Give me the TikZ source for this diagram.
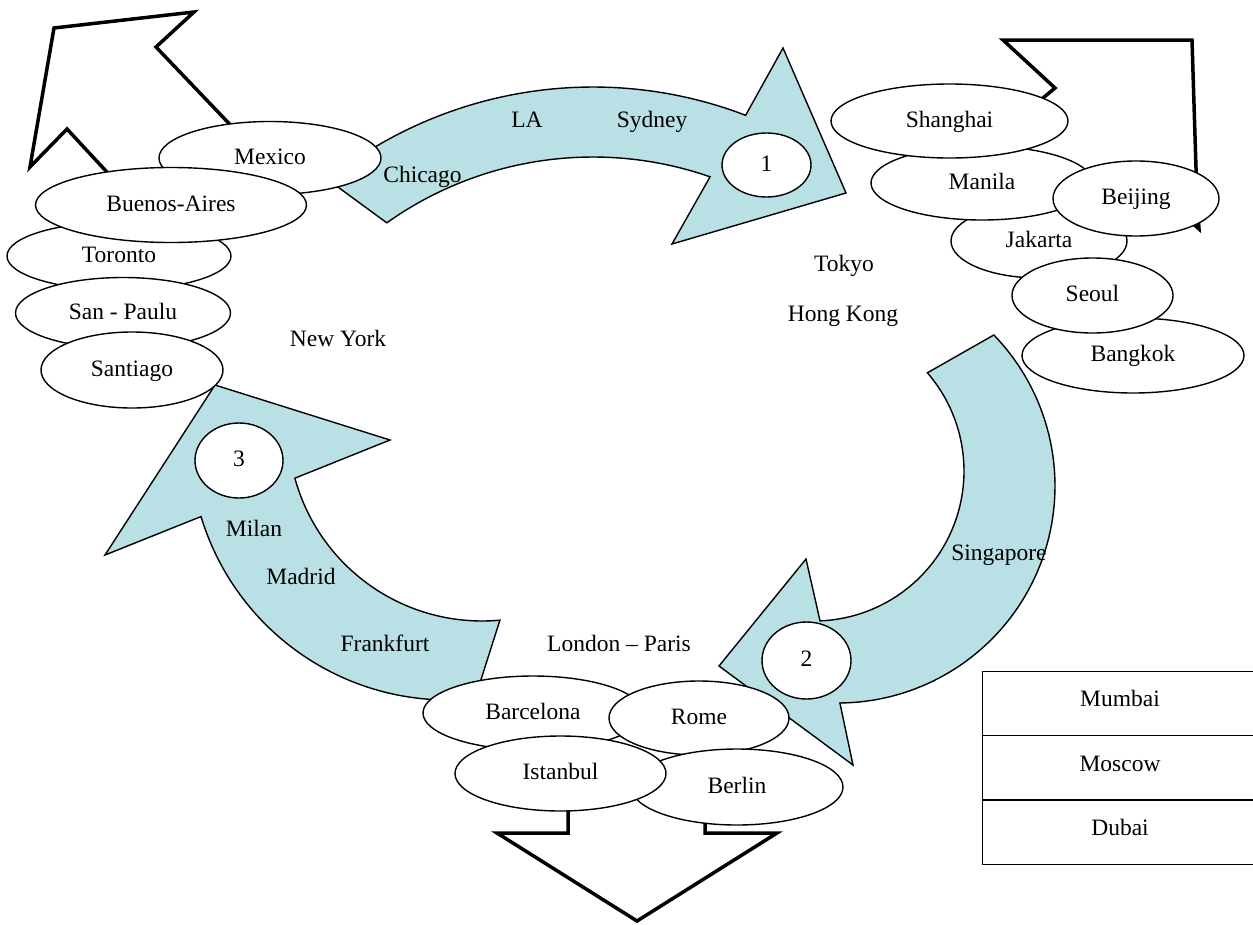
\documentclass[tikz,border=0pt]{standalone}
\usepackage{fontspec}
\setmainfont{Liberation Serif}
\usetikzlibrary{shapes.geometric}
\definecolor{arrowblue}{RGB}{185,224,228}
\newcommand\cityfont{\fontsize{23.5}{28}\selectfont}
\tikzset{
  city/.style={ellipse, draw, fill=white, line width=1.4pt, inner sep=0pt, font=\cityfont, text height=16.5pt, text depth=4.5pt},
  lbl/.style={inner sep=0pt, font=\cityfont, text height=16.5pt, text depth=4.5pt},
  bluearrow/.style={draw, fill=arrowblue, line width=1.4pt, line join=miter},
  hollow/.style={draw, line width=3.5pt, line join=miter},
  cell/.style={rectangle, draw, line width=1.4pt, minimum width=275pt, minimum height=64.5pt, inner sep=0pt, font=\cityfont, text height=16.5pt, text depth=10pt},
}
\begin{document}
\begin{tikzpicture}[x=1pt,y=-1pt]
\useasboundingbox (0,0) rectangle (1253,924);
\fill[white] (0,0) rectangle (1253,924);
\clip (0,0) rectangle (1253,924);

% hollow arrows
\draw[hollow] (118,184) -- (67,129) -- (30,167) -- (54,28) -- (194,12) -- (156,47) -- (240,135);
\draw[hollow] (1031,108) -- (1055,88) -- (1003,40) -- (1192,40) -- (1197,200) -- (1199,229) -- (1180,212);
\draw[hollow] (568,800) -- (568,833) -- (497,833) -- (637,921) -- (777,833) -- (705,833) -- (705,815);

% curved blue arrows
\draw[bluearrow] plot[domain=-128.5:-69,samples=60,variable=\t] ({593+426*cos(\t)},{513+426*sin(\t)})
  -- (783,48) -- (846,193) -- (672,244)
  -- plot[domain=-70.8:-125.4,samples=60,variable=\t] ({593+356*cos(\t)},{513+356*sin(\t)}) -- cycle;
\draw[bluearrow] plot[domain=-44.1:89.5,samples=80,variable=\t] ({838+217*cos(\t)},{486+217*sin(\t)})
  -- (853,765) -- (719,666) -- (806,559)
  -- plot[domain=87.7:-40.9,samples=80,variable=\t] ({814+150*cos(\t)},{471+150*sin(\t)}) -- cycle;
\draw[bluearrow] plot[domain=84:163.2,samples=60,variable=\t] ({448+258*cos(\t)},{442+258*sin(\t)})
  -- (105,555) -- (215,385) -- (390,440)
  -- plot[domain=164.7:84.7,samples=60,variable=\t] ({482+194*cos(\t)},{427+194*sin(\t)}) -- cycle;

% left group
\node[city, minimum width=222pt, minimum height=73pt] (mexico) at (270,158) {Mexico};
\node[city, minimum width=224pt, minimum height=68pt] (toronto) at (119,256) {Toronto};
\node[city, minimum width=271pt, minimum height=75pt] (buenos) at (171,205) {Buenos-Aires};
\node[city, minimum width=215pt, minimum height=71pt] (sanpaulu) at (123,313) {San - Paulu};
\node[city, minimum width=182pt, minimum height=76pt] (santiago) at (132,370) {Santiago};

% right group
\node[city, minimum width=176pt, minimum height=74pt] (jakarta) at (1039,241) {Jakarta};
\node[city, minimum width=222pt, minimum height=74pt] (manila) at (982,183) {Manila};
\node[city, minimum width=237pt, minimum height=74pt] (shanghai) at (949.5,121) {Shanghai};
\node[city, minimum width=222pt, minimum height=75pt] (bangkok) at (1133,355.5) {Bangkok};
\node[city, minimum width=161pt, minimum height=75pt] (seoul) at (1092.5,295.5) {Seoul};
\node[city, minimum width=166pt, minimum height=75pt] (beijing) at (1136,198.5) {Beijing};

% bottom group
\node[city, minimum width=220pt, minimum height=74pt] (barcelona) at (533,713) {Barcelona};
\node[city, minimum width=180pt, minimum height=74pt] (rome) at (699,718) {Rome};
\node[city, minimum width=212pt, minimum height=76pt] (berlin) at (737,787) {Berlin};
\node[city, minimum width=211pt, minimum height=75pt] (istanbul) at (560.5,773.5) {Istanbul};

% numbered ovals
\node[city, minimum width=89pt, minimum height=64pt] (one) at (766.5,165) {1};
\node[city, minimum width=89pt, minimum height=77pt] (two) at (806.5,660.5) {2};
\node[city, minimum width=88pt, minimum height=75pt] (three) at (239,460.5) {3};

% table
\node[cell] (mumbai) at (1120,703.5) {Mumbai};
\node[cell] (moscow) at (1120,768) {Moscow};
\node[cell] (dubai) at (1120,832) {Dubai};

% free labels
\node[lbl] (la) at (527,121) {LA};
\node[lbl] (sydney) at (652,121) {Sydney};
\node[lbl] (chicago) at (422.5,176) {Chicago};
\node[lbl] (tokyo) at (844,265) {Tokyo};
\node[lbl] (hongkong) at (843,315) {Hong Kong};
\node[lbl] (newyork) at (338,340) {New York};
\node[lbl] (singapore) at (999,554) {Singapore};
\node[lbl] (milan) at (254,530) {Milan};
\node[lbl] (madrid) at (301,578) {Madrid};
\node[lbl] (frankfurt) at (385,645) {Frankfurt};
\node[lbl] (londonparis) at (619,645) {London – Paris};
\end{tikzpicture}
\end{document}
